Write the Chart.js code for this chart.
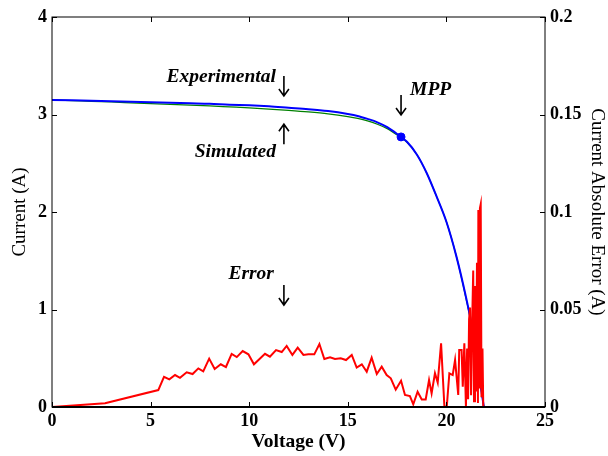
<!DOCTYPE html>
<html>
<head>
<meta charset="utf-8">
<script src="https://cdn.jsdelivr.net/npm/chart.js@4"></script>
<style>
  html, body { margin: 0; padding: 0; background: #fff; }
  #wrap { width: 608px; height: 456px; }
</style>
</head>
<body>
<div id="wrap"><canvas id="iv-chart"></canvas></div>
<script>
// I-V curve data
const voltage = [0, 1, 2, 3, 4, 5, 6, 7, 8, 9, 10, 11, 12, 13, 14, 15, 15.5, 16, 16.5, 17, 17.5, 18, 18.5, 19, 19.5, 20, 20.5, 21, 21.3, 21.6, 21.9];
const experimental = [3.15, 3.145, 3.14, 3.135, 3.13, 3.125, 3.12, 3.115, 3.11, 3.10, 3.095, 3.085, 3.07, 3.055, 3.035, 3.005, 2.985, 2.955, 2.92, 2.87, 2.80, 2.72, 2.59, 2.40, 2.16, 1.90, 1.55, 1.12, 0.82, 0.40, 0.0];
const simulated = [3.15, 3.143, 3.135, 3.128, 3.12, 3.112, 3.104, 3.096, 3.088, 3.078, 3.068, 3.056, 3.042, 3.026, 3.006, 2.978, 2.96, 2.935, 2.90, 2.855, 2.79, 2.715, 2.59, 2.40, 2.16, 1.90, 1.55, 1.11, 0.81, 0.40, 0.0];

// absolute error (right axis)
const errVoltage = [0, 2.69, 5.39, 5.68, 5.95, 6.24, 6.49, 6.83, 7.13, 7.42, 7.67, 7.97, 8.25, 8.56, 8.82, 9.11, 9.37, 9.67, 9.96, 10.24, 10.51, 10.8, 11.05, 11.36, 11.65, 11.9, 12.19, 12.46, 12.75, 13.0, 13.3, 13.56, 13.81, 14.1, 14.35, 14.64, 14.91, 15.2, 15.45, 15.71, 15.96, 16.21, 16.47, 16.72, 16.97, 17.18, 17.43, 17.7, 17.9, 18.15, 18.32, 18.54, 18.75, 18.95, 19.12, 19.25, 19.42, 19.56, 19.73, 19.9, 20.02, 20.15, 20.32, 20.44, 20.6, 20.65, 20.77, 20.83, 20.91, 20.99, 21.05, 21.1, 21.15, 21.2, 21.25, 21.3, 21.36, 21.4, 21.45, 21.5, 21.55, 21.6, 21.62, 21.66, 21.7, 21.74, 21.78, 21.83, 21.87];
const errValues = [0, 0.0019, 0.0087, 0.0155, 0.0142, 0.0164, 0.015, 0.0178, 0.0169, 0.0198, 0.0183, 0.0248, 0.0195, 0.0219, 0.0205, 0.0272, 0.0256, 0.0287, 0.027, 0.0219, 0.0245, 0.0273, 0.0258, 0.0292, 0.0282, 0.0313, 0.0267, 0.0304, 0.0267, 0.027, 0.027, 0.0323, 0.0246, 0.0255, 0.0246, 0.025, 0.0241, 0.0267, 0.0202, 0.0219, 0.0181, 0.0253, 0.0169, 0.0207, 0.0164, 0.0147, 0.0089, 0.0135, 0.0062, 0.0056, 0.0014, 0.0078, 0.0039, 0.0039, 0.0138, 0.007, 0.0173, 0.0125, 0.0327, 0.0, 0.0002, 0.0173, 0.0164, 0.0241, 0.0062, 0.0292, 0.0292, 0.0104, 0.0327, 0.0, 0.03, 0.004, 0.045, 0.051, 0.006, 0.04, 0.07, 0.003, 0.062, 0.008, 0.074, 0.002, 0.101, 0.01, 0.102, 0.104, 0.005, 0.03, 0.0];

const mpp = { v: 17.7, i: 2.77 };

const xTicks = [0, 5, 10, 15, 20, 25];
const yTicks = [0, 1, 2, 3, 4];
const y1Ticks = [0, 0.05, 0.1, 0.15, 0.2];

const pts = (xs, ys) => xs.map((x, k) => ({ x: x, y: ys[k] }));

const serif = '"Liberation Serif", "Times New Roman", serif';
const tickFont = { family: serif, size: 18, weight: 'bold' };

// frame with inward ticks + text annotations
const framePlugin = {
  id: 'frame',
  afterDatasetsDraw(chart) {
    const { ctx, chartArea: a, scales } = chart;
    ctx.save();
    ctx.strokeStyle = '#000';
    ctx.lineWidth = 1;
    ctx.strokeRect(a.left, a.top, a.right - a.left, a.bottom - a.top);
    ctx.beginPath();
    xTicks.forEach(t => {
      const px = Math.round(scales.x.getPixelForValue(t)) + 0.5;
      ctx.moveTo(px, a.bottom); ctx.lineTo(px, a.bottom - 5);
      ctx.moveTo(px, a.top); ctx.lineTo(px, a.top + 5);
    });
    yTicks.forEach(t => {
      const py = Math.round(scales.y.getPixelForValue(t)) + 0.5;
      ctx.moveTo(a.left, py); ctx.lineTo(a.left + 5, py);
    });
    y1Ticks.forEach(t => {
      const py = Math.round(scales.y1.getPixelForValue(t)) + 0.5;
      ctx.moveTo(a.right, py); ctx.lineTo(a.right - 5, py);
    });
    ctx.stroke();
    // thicker bottom axis line like the reference
    ctx.lineWidth = 2;
    ctx.beginPath();
    ctx.moveTo(a.left, a.bottom); ctx.lineTo(a.right, a.bottom);
    ctx.stroke();

    const arrow = (x, y, dir) => {
      // dir = 1: pointing down (tip at y), -1: pointing up
      ctx.lineWidth = 1.6;
      ctx.beginPath();
      ctx.moveTo(x, y - dir * 20); ctx.lineTo(x, y);
      ctx.moveTo(x - 5, y - dir * 7); ctx.lineTo(x, y); ctx.lineTo(x + 5, y - dir * 7);
      ctx.stroke();
    };
    ctx.fillStyle = '#000';
    ctx.font = 'italic bold 19.5px ' + serif;
    ctx.textBaseline = 'middle';

    const ax = scales.x.getPixelForValue(11.76);
    // Experimental
    const eTip = scales.y.getPixelForValue(3.19);
    arrow(ax, eTip, 1);
    ctx.textAlign = 'right';
    ctx.fillText('Experimental', ax - 8, eTip - 19);
    // Simulated
    const sTip = scales.y.getPixelForValue(2.9);
    arrow(ax, sTip, -1);
    ctx.fillText('Simulated', ax - 8, sTip + 28);
    // Error
    const rTip = scales.y1.getPixelForValue(0.0523);
    arrow(ax, rTip, 1);
    ctx.fillText('Error', ax - 10, rTip - 31);
    // MPP
    const mx = scales.x.getPixelForValue(mpp.v);
    const mTip = scales.y.getPixelForValue(2.995);
    arrow(mx, mTip, 1);
    ctx.textAlign = 'left';
    ctx.fillText('MPP', mx + 9, mTip - 25);
    ctx.restore();
  }
};

new Chart(document.getElementById('iv-chart'), {
  type: 'line',
  data: {
    datasets: [
      {
        label: 'MPP',
        data: [{ x: mpp.v, y: mpp.i }],
        yAxisID: 'y',
        showLine: false,
        pointRadius: 4,
        pointBackgroundColor: '#0000ff',
        pointBorderColor: '#0000ff',
        order: 0
      },
      {
        label: 'Error',
        data: pts(errVoltage, errValues),
        yAxisID: 'y1',
        borderColor: '#ff0000',
        borderWidth: 2,
        pointRadius: 0,
        tension: 0,
        order: 1
      },
      {
        label: 'Experimental',
        data: pts(voltage, experimental),
        yAxisID: 'y',
        borderColor: '#0000ff',
        borderWidth: 2,
        pointRadius: 0,
        cubicInterpolationMode: 'monotone',
        order: 2
      },
      {
        label: 'Simulated',
        data: pts(voltage, simulated),
        yAxisID: 'y',
        borderColor: '#008000',
        borderWidth: 1.2,
        pointRadius: 0,
        cubicInterpolationMode: 'monotone',
        order: 3
      }
    ]
  },
  options: {
    responsive: true,
    maintainAspectRatio: false,
    animation: false,
    layout: { padding: { top: 17 } },
    plugins: { legend: { display: false }, tooltip: { enabled: false } },
    scales: {
      x: {
        type: 'linear',
        min: 0, max: 25,
        afterBuildTicks: s => { s.ticks = xTicks.map(v => ({ value: v })); },
        afterFit: s => { s.height = 49; },
        grid: { display: false, drawTicks: false },
        border: { display: false },
        ticks: { font: tickFont, color: '#000', padding: 4, maxRotation: 0 },
        title: { display: true, text: 'Voltage (V)', color: '#000', font: { family: serif, size: 19.5, weight: 'bold' }, padding: { bottom: 2 } }
      },
      y: {
        position: 'left',
        min: 0, max: 4,
        afterBuildTicks: s => { s.ticks = yTicks.map(v => ({ value: v })); },
        afterFit: s => { s.width = 52; },
        grid: { display: false, drawTicks: false },
        border: { display: false },
        ticks: { font: tickFont, color: '#000', padding: 5 },
        title: { display: true, text: 'Current (A)', color: '#000', font: { family: serif, size: 19 }, padding: { top: 9 } }
      },
      y1: {
        position: 'right',
        min: 0, max: 0.2,
        afterBuildTicks: s => { s.ticks = y1Ticks.map(v => ({ value: v })); },
        afterFit: s => { s.width = 63; },
        grid: { display: false, drawTicks: false },
        border: { display: false },
        ticks: { font: tickFont, color: '#000', padding: 5, callback: v => String(v) },
        title: { display: true, text: 'Current Absolute Error (A)', color: '#000', font: { family: serif, size: 19 }, padding: { top: 0 } }
      }
    }
  },
  plugins: [framePlugin]
});
</script>
</body>
</html>
